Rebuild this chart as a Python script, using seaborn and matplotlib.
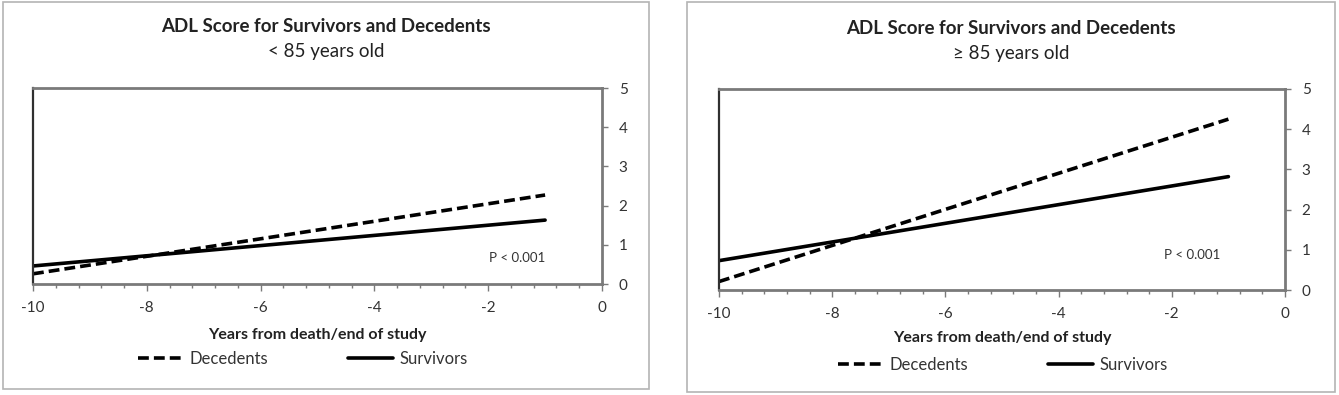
import matplotlib
matplotlib.use("Agg")
import matplotlib.pyplot as plt
from matplotlib.patches import Rectangle
from matplotlib.ticker import MultipleLocator
import pandas as pd
import seaborn as sns

# fitted ADL score trajectories
years = [-10, -1]
groups = ["Decedents", "Survivors"]
lt85_decedents = [0.26, 2.27]
lt85_survivors = [0.46, 1.63]
ge85_decedents = [0.21, 4.25]
ge85_survivors = [0.73, 2.82]

title = "ADL Score for Survivors and Decedents"
subtitles = ["< 85 years old", "\u2265 85 years old"]
xlabel = "Years from death/end of study"
pvalue = "P < 0.001"

W, H = 1339, 395

sns.set_theme(style="white")
plt.rcParams["font.family"] = ["Lato", "DejaVu Sans"]

fig = plt.figure(figsize=(W / 100, H / 100), dpi=100)


def fx(px):
    return px / W


def fy(py):
    return 1 - py / H


def make_df(dec, surv):
    rows = []
    for g, vals in zip(groups, [dec, surv]):
        for x, y in zip(years, vals):
            rows.append({"years": x, "score": y, "group": g})
    return pd.DataFrame(rows)


panels = [
    # frame (x0, y0, x1, y1), plot area (x0, y0, x1, y1), text positions
    dict(frame=(3, 2, 649, 389), area=(33, 88, 602, 284), data=(lt85_decedents, lt85_survivors),
         title_y=26, sub_y=52, xlab_y=335, leg_x=138, leg_y=359, pv=(-1.0, 0.67)),
    dict(frame=(687, 2, 1335, 392), area=(719, 89, 1285, 290), data=(ge85_decedents, ge85_survivors),
         title_y=28, sub_y=53, xlab_y=338, leg_x=838, leg_y=365, pv=(-1.15, 0.88)),
]

for i, p in enumerate(panels):
    x0, y0, x1, y1 = p["frame"]
    fig.patches.append(Rectangle((fx(x0), fy(y1)), fx(x1 - x0), (y1 - y0) / H,
                                 transform=fig.transFigure, fill=False,
                                 edgecolor="#b4b4b4", linewidth=1.2))
    cx = (x0 + x1) / 2

    a0, b0, a1, b1 = p["area"]
    ax = fig.add_axes([fx(a0), fy(b1), fx(a1 - a0), (b1 - b0) / H])
    df = make_df(*p["data"])
    sns.lineplot(data=df, x="years", y="score", style="group", style_order=groups,
                 dashes={"Decedents": (3.0, 1.4), "Survivors": ""},
                 color="black", linewidth=2.6, legend=False, ax=ax)
    ax.set_xlim(-10, 0)
    ax.set_ylim(0, 5)
    ax.set_xlabel("")
    ax.set_ylabel("")

    ax.xaxis.set_major_locator(MultipleLocator(2))
    ax.xaxis.set_minor_locator(MultipleLocator(0.4))
    ax.yaxis.set_major_locator(MultipleLocator(1))
    ax.yaxis.tick_right()
    ax.tick_params(axis="x", which="major", direction="out", length=5, width=1,
                   color="#7a7a7a", labelsize=11, labelcolor="#333333", pad=7, bottom=True)
    ax.tick_params(axis="x", which="minor", direction="out", length=3, width=1,
                   color="#7a7a7a", bottom=True)
    ax.tick_params(axis="y", which="major", direction="out", length=4, width=1,
                   color="#7a7a7a", labelsize=11, labelcolor="#333333", pad=8, right=True)
    ax.set_xticks([-10, -8, -6, -4, -2, 0])
    ax.set_xticklabels(["-10", "-8", "-6", "-4", "-2", "0"])

    # Excel-like frame: grey top/right/bottom, dark left edge
    for side in ["top", "right", "bottom"]:
        ax.spines[side].set_visible(True)
        ax.spines[side].set_color("#7a7a7a")
        ax.spines[side].set_linewidth(2.0)
    ax.spines["left"].set_visible(True)
    ax.spines["left"].set_color("#303030")
    ax.spines["left"].set_linewidth(1.6)

    ax.text(p["pv"][0], p["pv"][1], pvalue, ha="right", va="center",
            fontsize=9.5, color="#333333")

    fig.text(fx(cx), fy(p["title_y"]), title, ha="center", va="center",
             fontsize=13.5, fontweight="bold", color="#222222")
    fig.text(fx(cx), fy(p["sub_y"]), subtitles[i], ha="center", va="center",
             fontsize=13.5, color="#222222")
    fig.text(fx((a0 + a1) / 2), fy(p["xlab_y"]), xlabel, ha="center", va="center",
             fontsize=11.5, fontweight="bold", color="#222222")

    ax.legend(handles=ax.lines[:2], labels=groups, loc="center left", ncol=2,
              bbox_to_anchor=(fx(p["leg_x"]), fy(p["leg_y"])), bbox_transform=fig.transFigure,
              frameon=False, fontsize=12, handlelength=2.7, handletextpad=0.4,
              columnspacing=4.8, borderpad=0, borderaxespad=0, labelcolor="#333333")

fig.savefig("out.png", dpi=100)
